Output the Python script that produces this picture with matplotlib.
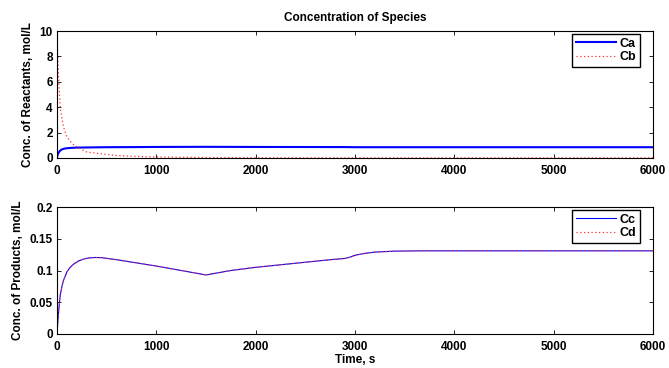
import matplotlib as mpl
mpl.use("Agg")
import matplotlib.pyplot as plt
import numpy as np

plt.rcParams['font.family'] = ['Liberation Sans', 'DejaVu Sans']
plt.rcParams['font.weight'] = 'bold'
plt.rcParams['axes.labelweight'] = 'bold'
plt.rcParams['font.size'] = 8.5

# reactants
t_a = [0, 5, 10, 20, 30, 50, 75, 100, 150, 200, 300, 500, 800, 1000, 1500, 2000, 2900, 3000, 3500, 4000, 6000]
ca = [0, 0.2, 0.33, 0.47, 0.57, 0.68, 0.74, 0.77, 0.8, 0.82, 0.83, 0.85, 0.86, 0.87, 0.88, 0.87, 0.86, 0.85, 0.85, 0.85, 0.85]
t_b = [0, 5, 10, 17, 25, 33, 50, 67, 100, 150, 200, 300, 433, 600, 800, 1000, 1500, 2000, 3000, 6000]
cb = [10, 8.6, 7.5, 6.1, 5.0, 4.0, 3.1, 2.4, 1.65, 1.15, 0.87, 0.47, 0.34, 0.2, 0.12, 0.08, 0.04, 0.02, 0.01, 0.01]

# products
t_c = [0, 5, 10, 17, 25, 33, 50, 67, 100, 133, 167, 217, 267, 320, 383, 450, 600, 800, 1000, 1250, 1500,
       1750, 2000, 2250, 2500, 2750, 2900, 2950, 3000, 3100, 3200, 3400, 3700, 4000, 6000]
cc = [0, 0.012, 0.023, 0.036, 0.05, 0.062, 0.075, 0.085, 0.098, 0.105, 0.11, 0.115, 0.118, 0.1198, 0.1205, 0.1202,
      0.117, 0.112, 0.107, 0.1, 0.093, 0.1, 0.105, 0.109, 0.113, 0.117, 0.119, 0.121, 0.124, 0.127, 0.129, 0.1305,
      0.131, 0.131, 0.131]
cd = cc

fig = plt.figure(figsize=(6.69, 3.68), dpi=100)
ax1 = fig.add_axes([57/669, 1 - 158/368, 596/669, 127/368])
ax2 = fig.add_axes([57/669, 1 - 334/368, 596/669, 127/368])

dots = (0, (1, 2))
ax1.plot(t_a, ca, color='blue', lw=1.5, label='Ca')
ax1.plot(t_b, cb, color='#ff3030', lw=0.9, ls=dots, label='Cb')
ax1.set_ylim(0, 10)
ax1.set_yticks([0, 2, 4, 6, 8, 10])
ax1.set_ylabel('Conc. of Reactants, mol/L')
ax1.set_title('Concentration of Species', fontsize=8.5, fontweight='bold', pad=7)

ax2.plot(t_c, cc, color='blue', lw=0.8, label='Cc')
ax2.plot(t_c, cd, color='#ff3030', lw=0.9, ls=dots, label='Cd')
ax2.set_ylim(0, 0.2)
ax2.set_yticks([0, 0.05, 0.1, 0.15, 0.2])
ax2.set_yticklabels(['0', '0.05', '0.1', '0.15', '0.2'])
ax2.set_ylabel('Conc. of Products, mol/L')
ax2.set_xlabel('Time, s', labelpad=1)

for ax in (ax1, ax2):
    ax.set_xlim(0, 6000)
    ax.set_xticks(range(0, 6001, 1000))
    ax.tick_params(direction='in', top=True, right=True, length=3, width=0.6)
    ax.tick_params(axis='x', pad=5)
    ax.tick_params(axis='y', pad=3)
    for s in ax.spines.values():
        s.set_linewidth(0.8)
    leg = ax.legend(loc='upper right', bbox_to_anchor=(0.978, 0.978), fancybox=False,
                    edgecolor='black', framealpha=1, borderaxespad=0, fontsize=9,
                    handlelength=3.2, borderpad=0.3, labelspacing=0.15, handletextpad=0.3)
    leg.get_frame().set_linewidth(1.0)

fig.savefig('out.png', dpi=100)
